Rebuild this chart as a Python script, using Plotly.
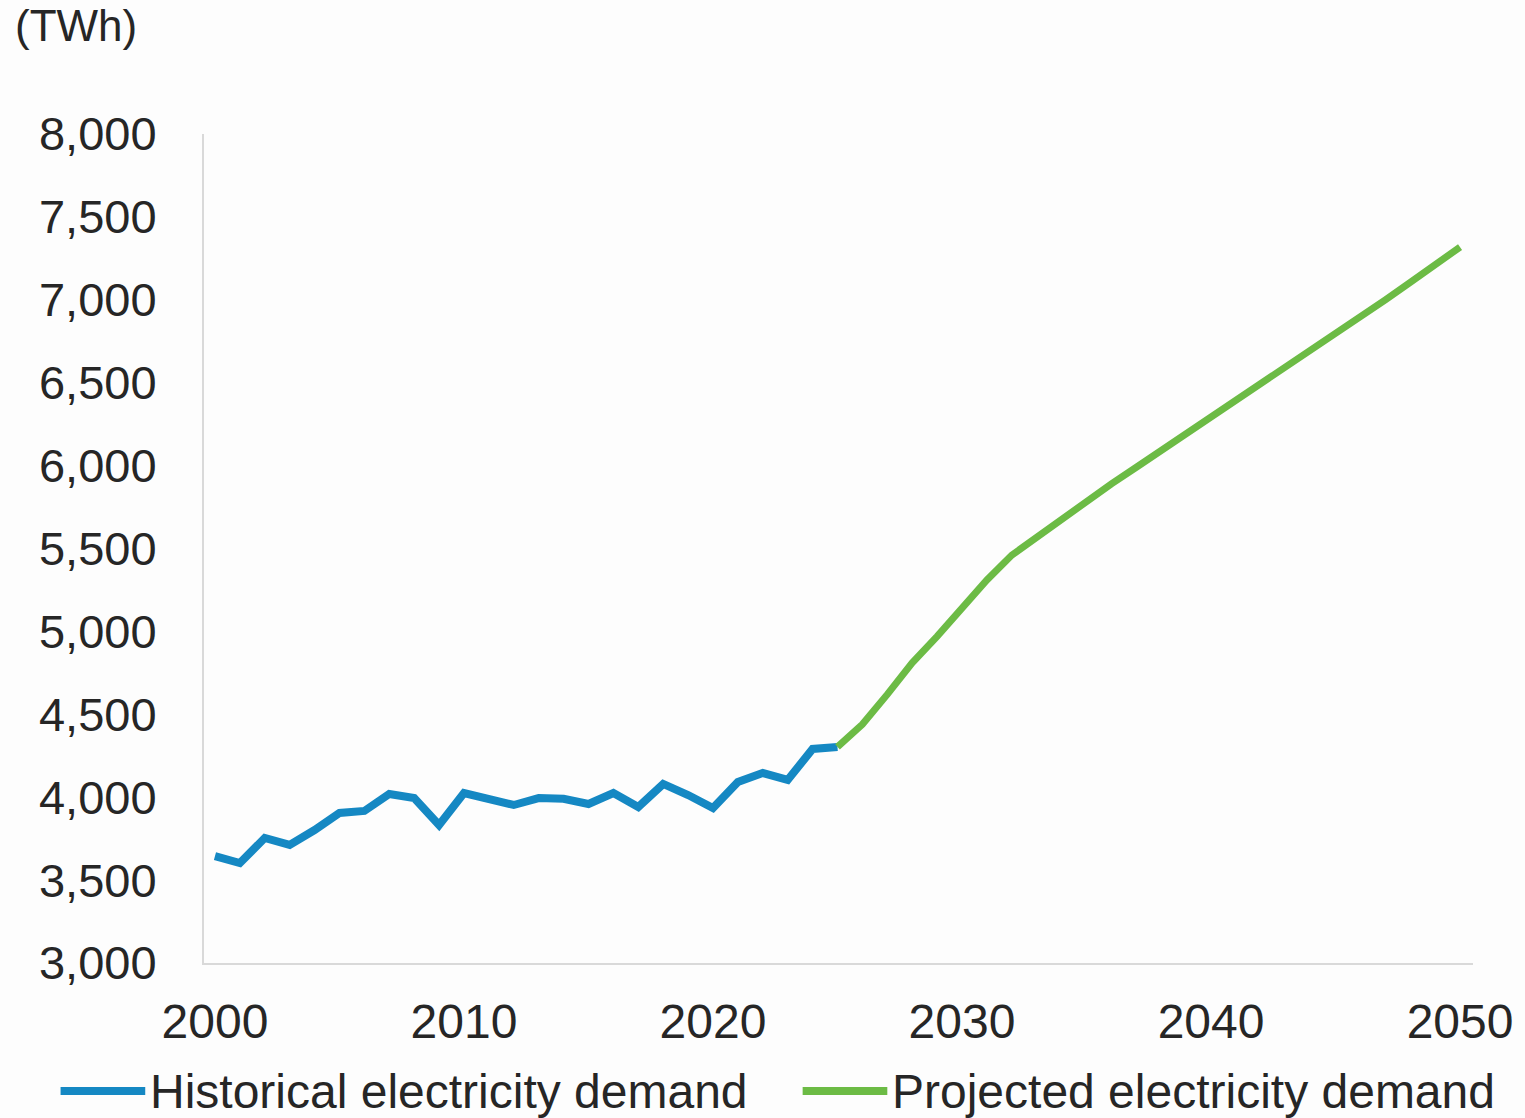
import plotly.graph_objects as go

# Electricity demand, TWh
hist_years = list(range(2000, 2026))
hist_demand = [3645, 3603, 3754, 3712, 3802, 3905, 3917, 4019, 3995, 3832,
               4025, 3989, 3953, 3995, 3990, 3959, 4025, 3941, 4080, 4013,
               3935, 4092, 4146, 4104, 4291, 4303]

proj_years = list(range(2025, 2051))
proj_demand = [4303, 4440, 4620, 4810, 4970, 5140, 5310, 5460, 5570, 5680,
               5790, 5890, 5990, 6090, 6190, 6290, 6390, 6490, 6590, 6690,
               6790, 6890, 7000, 7105, 7210, 7318]

y_ticks = [3000, 3500, 4000, 4500, 5000, 5500, 6000, 6500, 7000, 7500, 8000]
x_ticks = [2000, 2010, 2020, 2030, 2040, 2050]

series_names = ["Historical electricity demand", "Projected electricity demand"]
BLUE = "#1588c3"
GREEN = "#6cbb45"
TEXT = "#262626"
AXIS = "#d9d9d9"
FONT = "Liberation Sans, Arial, sans-serif"

W, H = 1525, 1118
L, R, T, B = 204, 47, 134, 155

fig = go.Figure()
fig.add_trace(go.Scatter(x=hist_years, y=hist_demand, mode="lines",
                         line=dict(color=BLUE, width=8), name=series_names[0],
                         showlegend=False))
fig.add_trace(go.Scatter(x=proj_years, y=proj_demand, mode="lines",
                         line=dict(color=GREEN, width=7), name=series_names[1],
                         showlegend=False))

fig.update_layout(
    width=W, height=H,
    margin=dict(l=L, r=R, t=T, b=B, pad=0),
    paper_bgcolor="#fdfdfd", plot_bgcolor="#fdfdfd",
    font=dict(family=FONT, color=TEXT, size=46),
    showlegend=False,
)
fig.update_xaxes(range=[1999.56, 2050.52], tickvals=x_ticks,
                 ticktext=[str(v) for v in x_ticks],
                 showgrid=False, zeroline=False, showline=True,
                 linecolor=AXIS, linewidth=2, ticks="",
                 tickfont=dict(size=48, color=TEXT), ticklabelstandoff=15)
fig.update_yaxes(range=[3000, 8000], tickvals=y_ticks,
                 ticktext=[f"{v:,}" for v in y_ticks],
                 showgrid=False, zeroline=False, showline=True,
                 linecolor=AXIS, linewidth=2, ticks="",
                 tickfont=dict(size=47, color=TEXT), ticklabelstandoff=36)

plot_w = W - L - R
plot_h = H - T - B


def px_x(px):
    return (px - L) / plot_w


def px_y(py):
    return (H - B - py) / plot_h


# unit label
fig.add_annotation(text="(TWh)", xref="paper", yref="paper",
                   x=px_x(12), y=px_y(26), xanchor="left", yanchor="middle",
                   showarrow=False, font=dict(size=44, color=TEXT))

# bottom legend: swatch + label per series
legend_items = [(series_names[0], BLUE, 60, 145, 148),
                (series_names[1], GREEN, 805, 890, 893)]
for name, color, x0, x1, tx in legend_items:
    fig.add_shape(type="line", xref="paper", yref="paper",
                  x0=px_x(x0), x1=px_x(x1), y0=px_y(1091), y1=px_y(1091),
                  line=dict(color=color, width=8))
    fig.add_annotation(text=name, xref="paper", yref="paper",
                       x=px_x(tx), y=px_y(1091), xanchor="left", yanchor="middle",
                       showarrow=False, font=dict(size=48, color=TEXT))

fig.write_html("out.html")
